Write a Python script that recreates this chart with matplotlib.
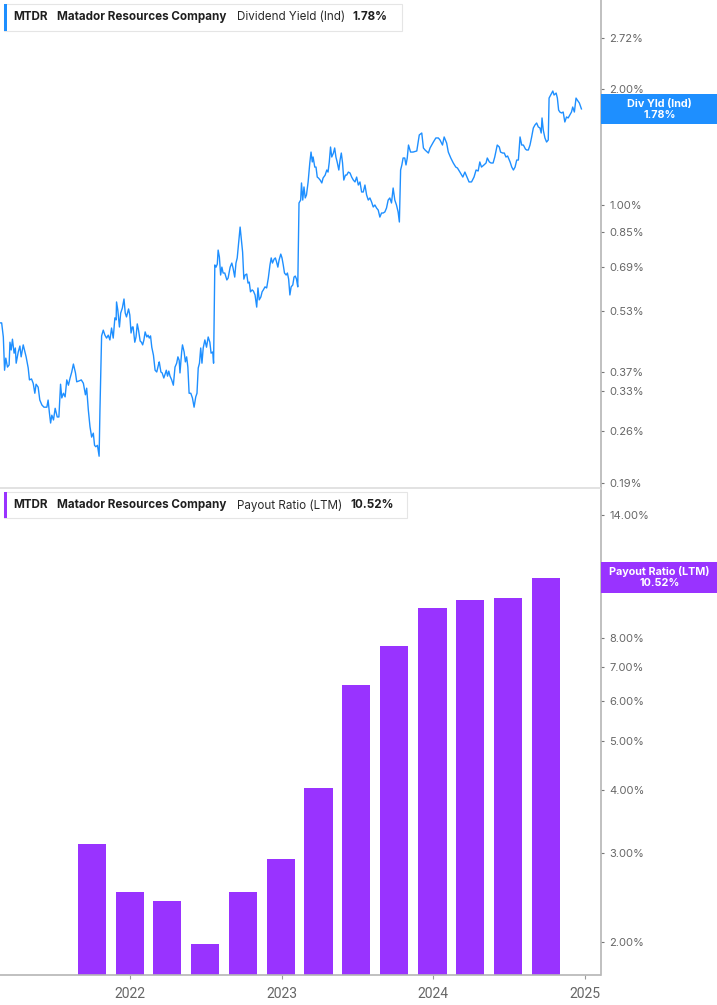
import matplotlib
matplotlib.use('Agg')
import matplotlib.pyplot as plt
from matplotlib.patches import Rectangle
from matplotlib.ticker import FixedLocator, NullLocator
import pandas as pd

plt.rcParams['font.family'] = ['Inter', 'DejaVu Sans']

# Dividend yield (Ind), % -- days counted from START
START = pd.Timestamp('2021-02-21')
yield_days = [
    0, 4, 8, 11, 14, 18, 22, 24, 27, 30, 34, 37, 39, 44, 48, 51, 56, 63, 68, 71,
    76, 80, 84, 87, 92, 96, 101, 106, 113, 116, 119, 122, 125, 129, 133, 138, 142, 146, 149, 153,
    157, 161, 165, 169, 173, 177, 182, 185, 191, 196, 201, 206, 209, 213, 217, 221, 225, 228, 231, 235,
    239, 241,
    245, 249, 253, 257, 261, 265, 269, 273, 277, 280, 281, 284, 288, 291, 295, 299, 302, 305, 310, 313,
    316, 319, 321, 325, 328, 331, 334, 338, 341, 344, 347, 350, 354, 357, 360, 363, 366, 370, 374, 378,
    382, 384, 388, 391, 395, 398, 401, 404, 407, 410, 414, 418, 422, 426, 429, 432, 434, 438, 440, 444,
    447, 450, 453, 456, 460, 464, 468, 472, 475, 478, 481, 484, 487, 490, 494, 498, 502, 506, 509, 513,
    515,
    518, 521, 524, 526, 529, 532, 535, 538, 542, 547, 550, 555, 559, 562, 566, 569, 572, 576, 579, 582,
    585, 588, 591, 595, 598, 601, 604, 608, 611, 615, 619, 622, 625, 629, 632, 635, 639, 643, 647, 651,
    654, 657, 661, 664, 667, 670, 673, 677, 680, 683, 686, 690, 693, 696, 699, 702, 706, 709, 712, 715,
    718,
    721, 725, 727, 730, 733, 736, 739, 743, 747, 750, 753, 755, 759, 762, 765, 768, 772, 776, 779, 784,
    788, 791, 794, 797, 800, 804, 807, 810, 813, 817, 820, 823, 826, 829, 833, 836, 840, 844, 848, 852,
    856, 860, 864, 868, 872, 876, 880, 884, 888, 892, 896, 900, 904, 908, 912, 916, 920, 924, 928, 932,
    936, 940, 944, 948, 952, 956, 960, 963,
    966, 969, 972, 976, 979, 982, 985, 990, 996, 1005, 1011, 1017, 1021, 1025, 1033, 1037, 1045, 1051, 1057, 1061,
    1067, 1071, 1077, 1081, 1087, 1093, 1099, 1103, 1109, 1116, 1121, 1127, 1131, 1137, 1143, 1148, 1153, 1157, 1161, 1167,
    1172, 1175, 1180, 1184, 1189, 1193, 1199, 1204, 1207, 1212, 1216, 1220, 1224, 1230, 1234, 1238, 1242, 1246, 1250, 1254,
    1258, 1262, 1267, 1270, 1274, 1278, 1282, 1286, 1290, 1294, 1298, 1302, 1305, 1307, 1310, 1314, 1318, 1322, 1324, 1328,
    1333, 1336, 1341, 1344, 1347, 1350, 1354, 1358, 1362, 1366, 1370, 1374, 1378, 1381, 1385, 1389, 1392, 1397, 1402,
]
yield_pct = [
    0.495, 0.495, 0.455, 0.373, 0.401, 0.380, 0.385, 0.441, 0.421, 0.449, 0.413, 0.426, 0.389, 0.416, 0.431, 0.404, 0.434, 0.404, 0.378, 0.352,
    0.354, 0.345, 0.325, 0.343, 0.337, 0.312, 0.303, 0.299, 0.299, 0.312, 0.290, 0.272, 0.285, 0.277, 0.297, 0.282, 0.282, 0.343, 0.316, 0.325,
    0.318, 0.352, 0.341, 0.356, 0.369, 0.387, 0.367, 0.348, 0.350, 0.352, 0.345, 0.322, 0.335, 0.294, 0.266, 0.250, 0.256, 0.238, 0.236, 0.238,
    0.223, 0.294,
    0.458, 0.474, 0.460, 0.452, 0.460, 0.447, 0.480, 0.452, 0.510, 0.504, 0.561, 0.535, 0.483, 0.525, 0.541, 0.571, 0.525, 0.513, 0.538, 0.519,
    0.466, 0.483, 0.483, 0.441, 0.455, 0.492, 0.474, 0.444, 0.441, 0.434, 0.447, 0.469, 0.455, 0.460, 0.452, 0.458, 0.428, 0.408, 0.373, 0.369,
    0.385, 0.392, 0.369, 0.367, 0.356, 0.364, 0.373, 0.360, 0.371, 0.360, 0.352, 0.341, 0.380, 0.389, 0.404, 0.396, 0.367, 0.416, 0.434, 0.416,
    0.392, 0.404, 0.380, 0.325, 0.325, 0.316, 0.299, 0.318, 0.325, 0.378, 0.389, 0.426, 0.389, 0.426, 0.447, 0.428, 0.455, 0.441, 0.413, 0.416,
    0.389,
    0.700, 0.691, 0.704, 0.765, 0.734, 0.659, 0.691, 0.667, 0.667, 0.640, 0.647, 0.691, 0.708, 0.687, 0.651, 0.708, 0.730, 0.813, 0.878, 0.813,
    0.756, 0.643, 0.659, 0.663, 0.628, 0.632, 0.596, 0.603, 0.599, 0.585, 0.544, 0.610, 0.568, 0.578, 0.596, 0.603, 0.614, 0.610, 0.647, 0.700,
    0.730, 0.708, 0.725, 0.730, 0.712, 0.691, 0.721, 0.747, 0.730, 0.700, 0.667, 0.659, 0.667, 0.643, 0.585, 0.614, 0.621, 0.651, 0.655, 0.643,
    0.614,
    1.014, 1.032, 1.143, 1.032, 1.116, 1.045, 1.064, 1.150, 1.288, 1.375, 1.296, 1.335, 1.257, 1.257, 1.184, 1.177, 1.163, 1.143, 1.177, 1.198,
    1.235, 1.220, 1.296, 1.417, 1.335, 1.367, 1.409, 1.335, 1.296, 1.235, 1.311, 1.367, 1.288, 1.163, 1.198, 1.198, 1.220, 1.213, 1.184, 1.163,
    1.150, 1.184, 1.129, 1.150, 1.083, 1.083, 1.129, 1.064, 1.032, 1.045, 1.020, 0.990, 1.002, 0.984, 0.972, 0.932, 0.955, 0.955, 0.961, 0.984,
    1.032, 1.045, 1.014, 1.109, 1.032, 1.002, 0.961, 0.905,
    1.235, 1.273, 1.327, 1.327, 1.273, 1.327, 1.434, 1.375, 1.375, 1.384, 1.523, 1.541, 1.409, 1.392, 1.367, 1.409, 1.460, 1.496, 1.496, 1.478,
    1.434, 1.505, 1.451, 1.375, 1.327, 1.288, 1.257, 1.250, 1.220, 1.184, 1.220, 1.177, 1.150, 1.150, 1.184, 1.235, 1.228, 1.296, 1.257, 1.273,
    1.288, 1.327, 1.296, 1.288, 1.288, 1.335, 1.434, 1.417, 1.375, 1.367, 1.367, 1.335, 1.343, 1.296, 1.257, 1.235, 1.257, 1.311, 1.311, 1.505,
    1.434, 1.434, 1.400, 1.392, 1.392, 1.434, 1.505, 1.588, 1.617, 1.636, 1.598, 1.588, 1.541, 1.686, 1.569, 1.496, 1.460, 1.478, 1.899, 1.934,
    1.981, 1.934, 1.957, 1.899, 1.768, 1.747, 1.737, 1.747, 1.646, 1.696, 1.686, 1.716, 1.747, 1.800, 1.747, 1.899, 1.877, 1.844, 1.780,
]

# Payout ratio (LTM), % -- quarterly
payout_quarters = ['2021-09-30', '2021-12-31', '2022-03-31', '2022-06-30', '2022-09-30',
                   '2022-12-31', '2023-03-31', '2023-06-30', '2023-09-30', '2023-12-31',
                   '2024-03-31', '2024-06-30', '2024-09-30']
payout_pct = [3.12, 2.51, 2.41, 1.98, 2.51, 2.92, 4.03, 6.44, 7.70, 9.16, 9.50, 9.58, 10.52]

yield_ticks = [0.19, 0.26, 0.33, 0.37, 0.53, 0.69, 0.85, 1.00, 2.00, 2.72]
payout_ticks = [2, 3, 4, 5, 6, 7, 8, 14]
year_ticks = ['2022-01-01', '2023-01-01', '2024-01-01', '2025-01-01']
year_labels = ['2022', '2023', '2024', '2025']

BLUE = '#1E8FFF'
PURPLE = '#9933FF'
W, H = 717, 1005


def px_rect(x0, y0, x1, y1):
    # pixel box (origin top-left) -> figure fraction [l, b, w, h]
    return [x0 / W, 1 - y1 / H, (x1 - x0) / W, (y1 - y0) / H]


def px_text(x, y, s, **kw):
    fig.text(x / W, 1 - y / H, s, va='center', **kw)


fig = plt.figure(figsize=(W / 100, H / 100), dpi=100)
ax1 = fig.add_axes(px_rect(0, 0, 600.5, 488))
ax2 = fig.add_axes(px_rect(0, 490, 600.5, 974.5))

dates = START + pd.to_timedelta(yield_days, unit='D')
ax1.plot(dates, yield_pct, color=BLUE, lw=1.0)
ax2.bar(pd.to_datetime(payout_quarters), payout_pct, width=68, color=PURPLE)

xmin, xmax = START, pd.Timestamp('2025-02-08')
for ax, ticks, lims in [(ax1, yield_ticks, (0.1844, 3.414)), (ax2, payout_ticks, (1.722, 15.69))]:
    ax.set_yscale('log')
    ax.set_ylim(*lims)
    ax.set_xlim(xmin, xmax)
    ax.yaxis.tick_right()
    ax.yaxis.set_major_locator(FixedLocator(ticks))
    ax.yaxis.set_minor_locator(NullLocator())
    ax.set_yticklabels([f'{t:.2f}%' for t in ticks])
    ax.tick_params(axis='y', length=2.5, width=0.8, color='#777777', labelsize=8,
                   labelcolor='#666666', pad=4)
    ax.spines['top'].set_visible(False)
    ax.spines['left'].set_visible(False)
    ax.spines['right'].set_color('#b5b5b5')
    ax.spines['right'].set_linewidth(1.2)

ax1.spines['bottom'].set_color('#dddddd')
ax1.spines['bottom'].set_linewidth(1.2)
ax1.set_xticks([])

ax2.spines['bottom'].set_color('#b5b5b5')
ax2.spines['bottom'].set_linewidth(1.2)
ax2.set_xticks(pd.to_datetime(year_ticks))
ax2.set_xticklabels(year_labels, family=['Roboto', 'DejaVu Sans'])
ax2.xaxis.set_minor_locator(NullLocator())
ax2.tick_params(axis='x', length=3, width=0.8, color='#999999', labelsize=10,
                labelcolor='#666666', pad=6)

# legend boxes
for top, bottom, right, col, label, value, vx in [
        (4, 30.7, 402, BLUE, 'Dividend Yield (Ind)', '1.78%', 352.7),
        (492.3, 518.3, 406.7, PURPLE, 'Payout Ratio (LTM)', '10.52%', 350.7)]:
    fig.add_artist(Rectangle(px_rect(4, top, right, bottom)[:2], (right - 4) / W, (bottom - top) / H,
                             transform=fig.transFigure, facecolor='white', edgecolor='#e5e5e5',
                             lw=0.8, zorder=4))
    fig.add_artist(Rectangle(px_rect(4, top, 7.3, bottom)[:2], 3.3 / W, (bottom - top) / H,
                             transform=fig.transFigure, facecolor=col, edgecolor='none', zorder=5))
    ym = (top + bottom) / 2
    px_text(13.3, ym, 'MTDR', fontsize=8.4, fontweight='bold', color='#1f1f1f', zorder=6)
    px_text(57.3, ym, 'Matador Resources Company', fontsize=8.4, fontweight='bold', color='#1f1f1f', zorder=6)
    px_text(236.7, ym, label, fontsize=8.4, color='#2a2a2a', zorder=6)
    px_text(vx, ym, value, fontsize=8.4, fontweight='bold', color='#1f1f1f', zorder=6)

# last-value tags on the right axis
for top, bottom, col, name, value in [(94.3, 123.7, BLUE, 'Div Yld (Ind)', '1.78%'),
                                      (562.3, 592.7, PURPLE, 'Payout Ratio (LTM)', '10.52%')]:
    fig.add_artist(Rectangle(px_rect(601, top, 717, bottom)[:2], 116 / W, (bottom - top) / H,
                             transform=fig.transFigure, facecolor=col, edgecolor='none', zorder=5))
    px_text(659.5, top + 9.5, name, ha='center', fontsize=7.8, fontweight='bold', color='white', zorder=6)
    px_text(659.5, top + 20.5, value, ha='center', fontsize=7.8, fontweight='bold', color='white', zorder=6)

fig.savefig('out.png', dpi=100)
